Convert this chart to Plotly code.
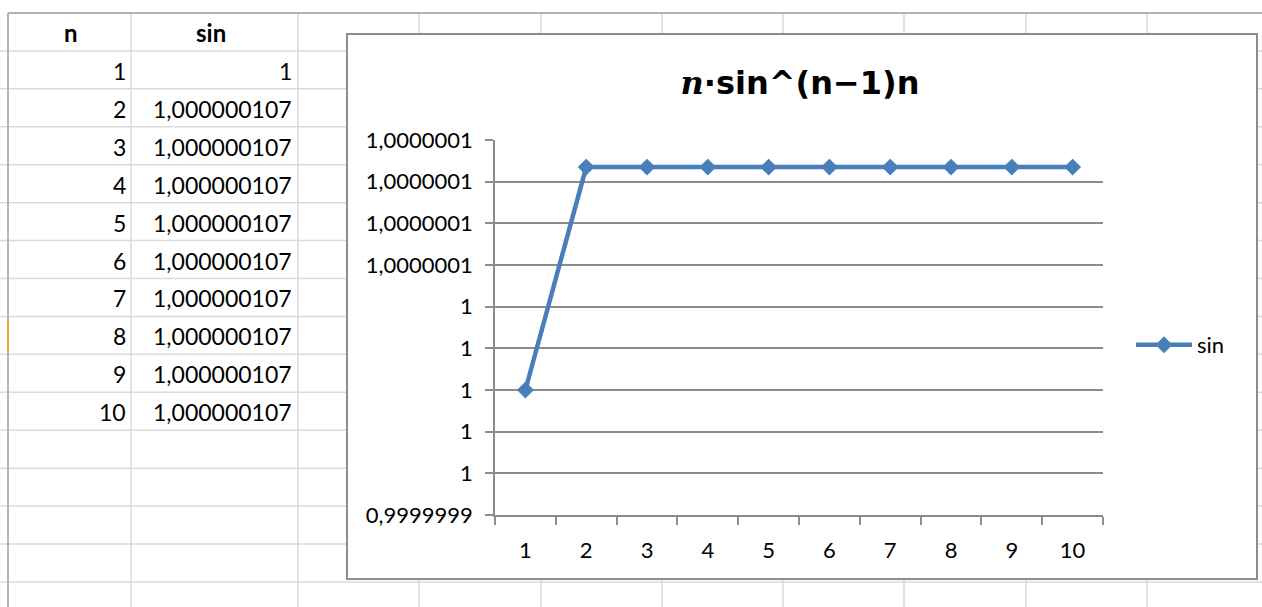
import plotly.graph_objects as go

# ---- data -------------------------------------------------------------
n_values = [1, 2, 3, 4, 5, 6, 7, 8, 9, 10]
sin_values = [1.0, 1.000000107, 1.000000107, 1.000000107, 1.000000107,
              1.000000107, 1.000000107, 1.000000107, 1.000000107, 1.000000107]
series_name = "sin"
header_labels = ["n", "sin"]

# value axis: start, step and labels as Excel prints them (7 decimals)
y_start = 0.99999994
y_step = 0.00000002
y_tick_labels = ["0,9999999", "1", "1", "1", "1", "1",
                 "1,0000001", "1,0000001", "1,0000001", "1,0000001"]

# ---- page geometry (pixels) ------------------------------------------
W, H = 1262, 607


def px(x):
    return x / W


def py(y):
    return 1 - y / H


FONT = "Lato, 'Open Sans', Arial, sans-serif"
TITLE_FONT = "'DejaVu Sans', Lato, sans-serif"
SHEET_LINE = "#dadada"
AXIS_GRAY = "#8c8c8c"
BLUE = "#4a7ebb"

shapes = []

# spreadsheet grid
row_top = 13.0
row_h = 37.93
rows_y = [row_top + row_h * i for i in range(16)]
cols_x = [131, 298, 419, 541, 662, 783, 904, 1026, 1147]
for y in rows_y[1:]:
    shapes.append(dict(type="line", xref="paper", yref="paper",
                       x0=0, x1=1, y0=py(y), y1=py(y),
                       line=dict(color=SHEET_LINE, width=1.5), layer="below"))
for x in cols_x:
    shapes.append(dict(type="line", xref="paper", yref="paper",
                       x0=px(x), x1=px(x), y0=py(row_top), y1=0,
                       line=dict(color=SHEET_LINE, width=1.5), layer="below"))
# sheet frame (top edge and left edge)
shapes.append(dict(type="line", xref="paper", yref="paper",
                   x0=px(8), x1=1, y0=py(row_top), y1=py(row_top),
                   line=dict(color="#b4b4b4", width=2), layer="below"))
shapes.append(dict(type="line", xref="paper", yref="paper",
                   x0=px(8), x1=px(8), y0=py(row_top), y1=0,
                   line=dict(color="#b4b4b4", width=2), layer="below"))
# active-row marker on the left edge
shapes.append(dict(type="line", xref="paper", yref="paper",
                   x0=px(8), x1=px(8), y0=py(rows_y[8] + 2), y1=py(rows_y[9] - 2),
                   line=dict(color="#f0a030", width=2), layer="below"))

# chart frame
shapes.append(dict(type="rect", xref="paper", yref="paper",
                   x0=px(347), x1=px(1257), y0=py(579), y1=py(34),
                   fillcolor="white", line=dict(color=AXIS_GRAY, width=2),
                   layer="below"))

# ---- table text ------------------------------------------------------
annotations = []
header_centers = [71, 211]
for label, cx in zip(header_labels, header_centers):
    annotations.append(dict(text=f"<b>{label}</b>", xref="paper", yref="paper",
                            x=px(cx), y=py((rows_y[0] + rows_y[1]) / 2 + 1),
                            xanchor="center", yanchor="middle", showarrow=False,
                            font=dict(family=FONT, size=24, color="black")))


def cell_text(v):
    s = f"{v:.9f}".rstrip("0").rstrip(".")
    return s.replace(".", ",")


for i, (n, v) in enumerate(zip(n_values, sin_values)):
    cy = (rows_y[i + 1] + rows_y[i + 2]) / 2 + 1
    annotations.append(dict(text=str(n), xref="paper", yref="paper",
                            x=px(128), y=py(cy), xanchor="right", yanchor="middle",
                            showarrow=False,
                            font=dict(family=FONT, size=23, color="black")))
    annotations.append(dict(text=cell_text(v), xref="paper", yref="paper",
                            x=px(294), y=py(cy), xanchor="right", yanchor="middle",
                            showarrow=False,
                            font=dict(family=FONT, size=23, color="black")))

# ---- chart -------------------------------------------------------------
y_ticks = [y_start + y_step * i for i in range(len(y_tick_labels))]
y_end = y_ticks[-1]

fig = go.Figure()
fig.add_trace(go.Scatter(
    x=n_values, y=sin_values, name=series_name, mode="lines+markers",
    line=dict(color=BLUE, width=4.5),
    marker=dict(symbol="diamond", size=13, color=BLUE),
))

fig.update_layout(
    width=W, height=H,
    margin=dict(l=0, r=0, t=0, b=0, pad=0, autoexpand=False),
    paper_bgcolor="white",
    plot_bgcolor="white",
    font=dict(family=FONT, size=22, color="black"),
    title=dict(
        text="<span style=\"font-family:'DejaVu Serif';font-style:italic\">n</span>·sin^(n−1)n",
        x=px(800), y=py(83), xanchor="center", yanchor="middle",
        xref="paper", yref="paper",
        font=dict(family=TITLE_FONT, size=32, color="black", weight="bold"),
    ),
    xaxis=dict(
        domain=[px(495), px(1103)],
        range=[0.5, 10.5],
        tickmode="array", tickvals=n_values, ticktext=[str(n) for n in n_values],
        ticks="outside", ticklen=8, tickcolor="rgba(0,0,0,0)",
        ticklabelstandoff=7,
        minor=dict(tickmode="linear", tick0=0.5, dtick=1, ticks="outside",
                   ticklen=8, tickwidth=1.5, tickcolor=AXIS_GRAY, showgrid=False),
        showline=True, linecolor=AXIS_GRAY, linewidth=1.5,
        showgrid=False, zeroline=False, fixedrange=True, automargin=False,
        tickfont=dict(family=FONT, size=22, color="black"),
    ),
    yaxis=dict(
        domain=[py(515), py(140)],
        range=[y_start - 1e-12, y_end + 1e-12],
        tickmode="array", tickvals=y_ticks, ticktext=y_tick_labels,
        ticks="outside", ticklen=8, tickwidth=1.5, tickcolor=AXIS_GRAY,
        ticklabelstandoff=8,
        showline=True, linecolor=AXIS_GRAY, linewidth=1.5,
        showgrid=True, gridcolor=AXIS_GRAY, gridwidth=1.5,
        zeroline=False, fixedrange=True, automargin=False,
        tickfont=dict(family=FONT, size=22, color="black"),
    ),
    showlegend=True,
    legend=dict(x=px(1131), y=py(345), xanchor="left", yanchor="middle",
                itemwidth=56,
                bgcolor="rgba(0,0,0,0)", borderwidth=0,
                font=dict(family=FONT, size=22, color="black")),
    shapes=shapes,
    annotations=annotations,
)

fig.write_html("out.html")
